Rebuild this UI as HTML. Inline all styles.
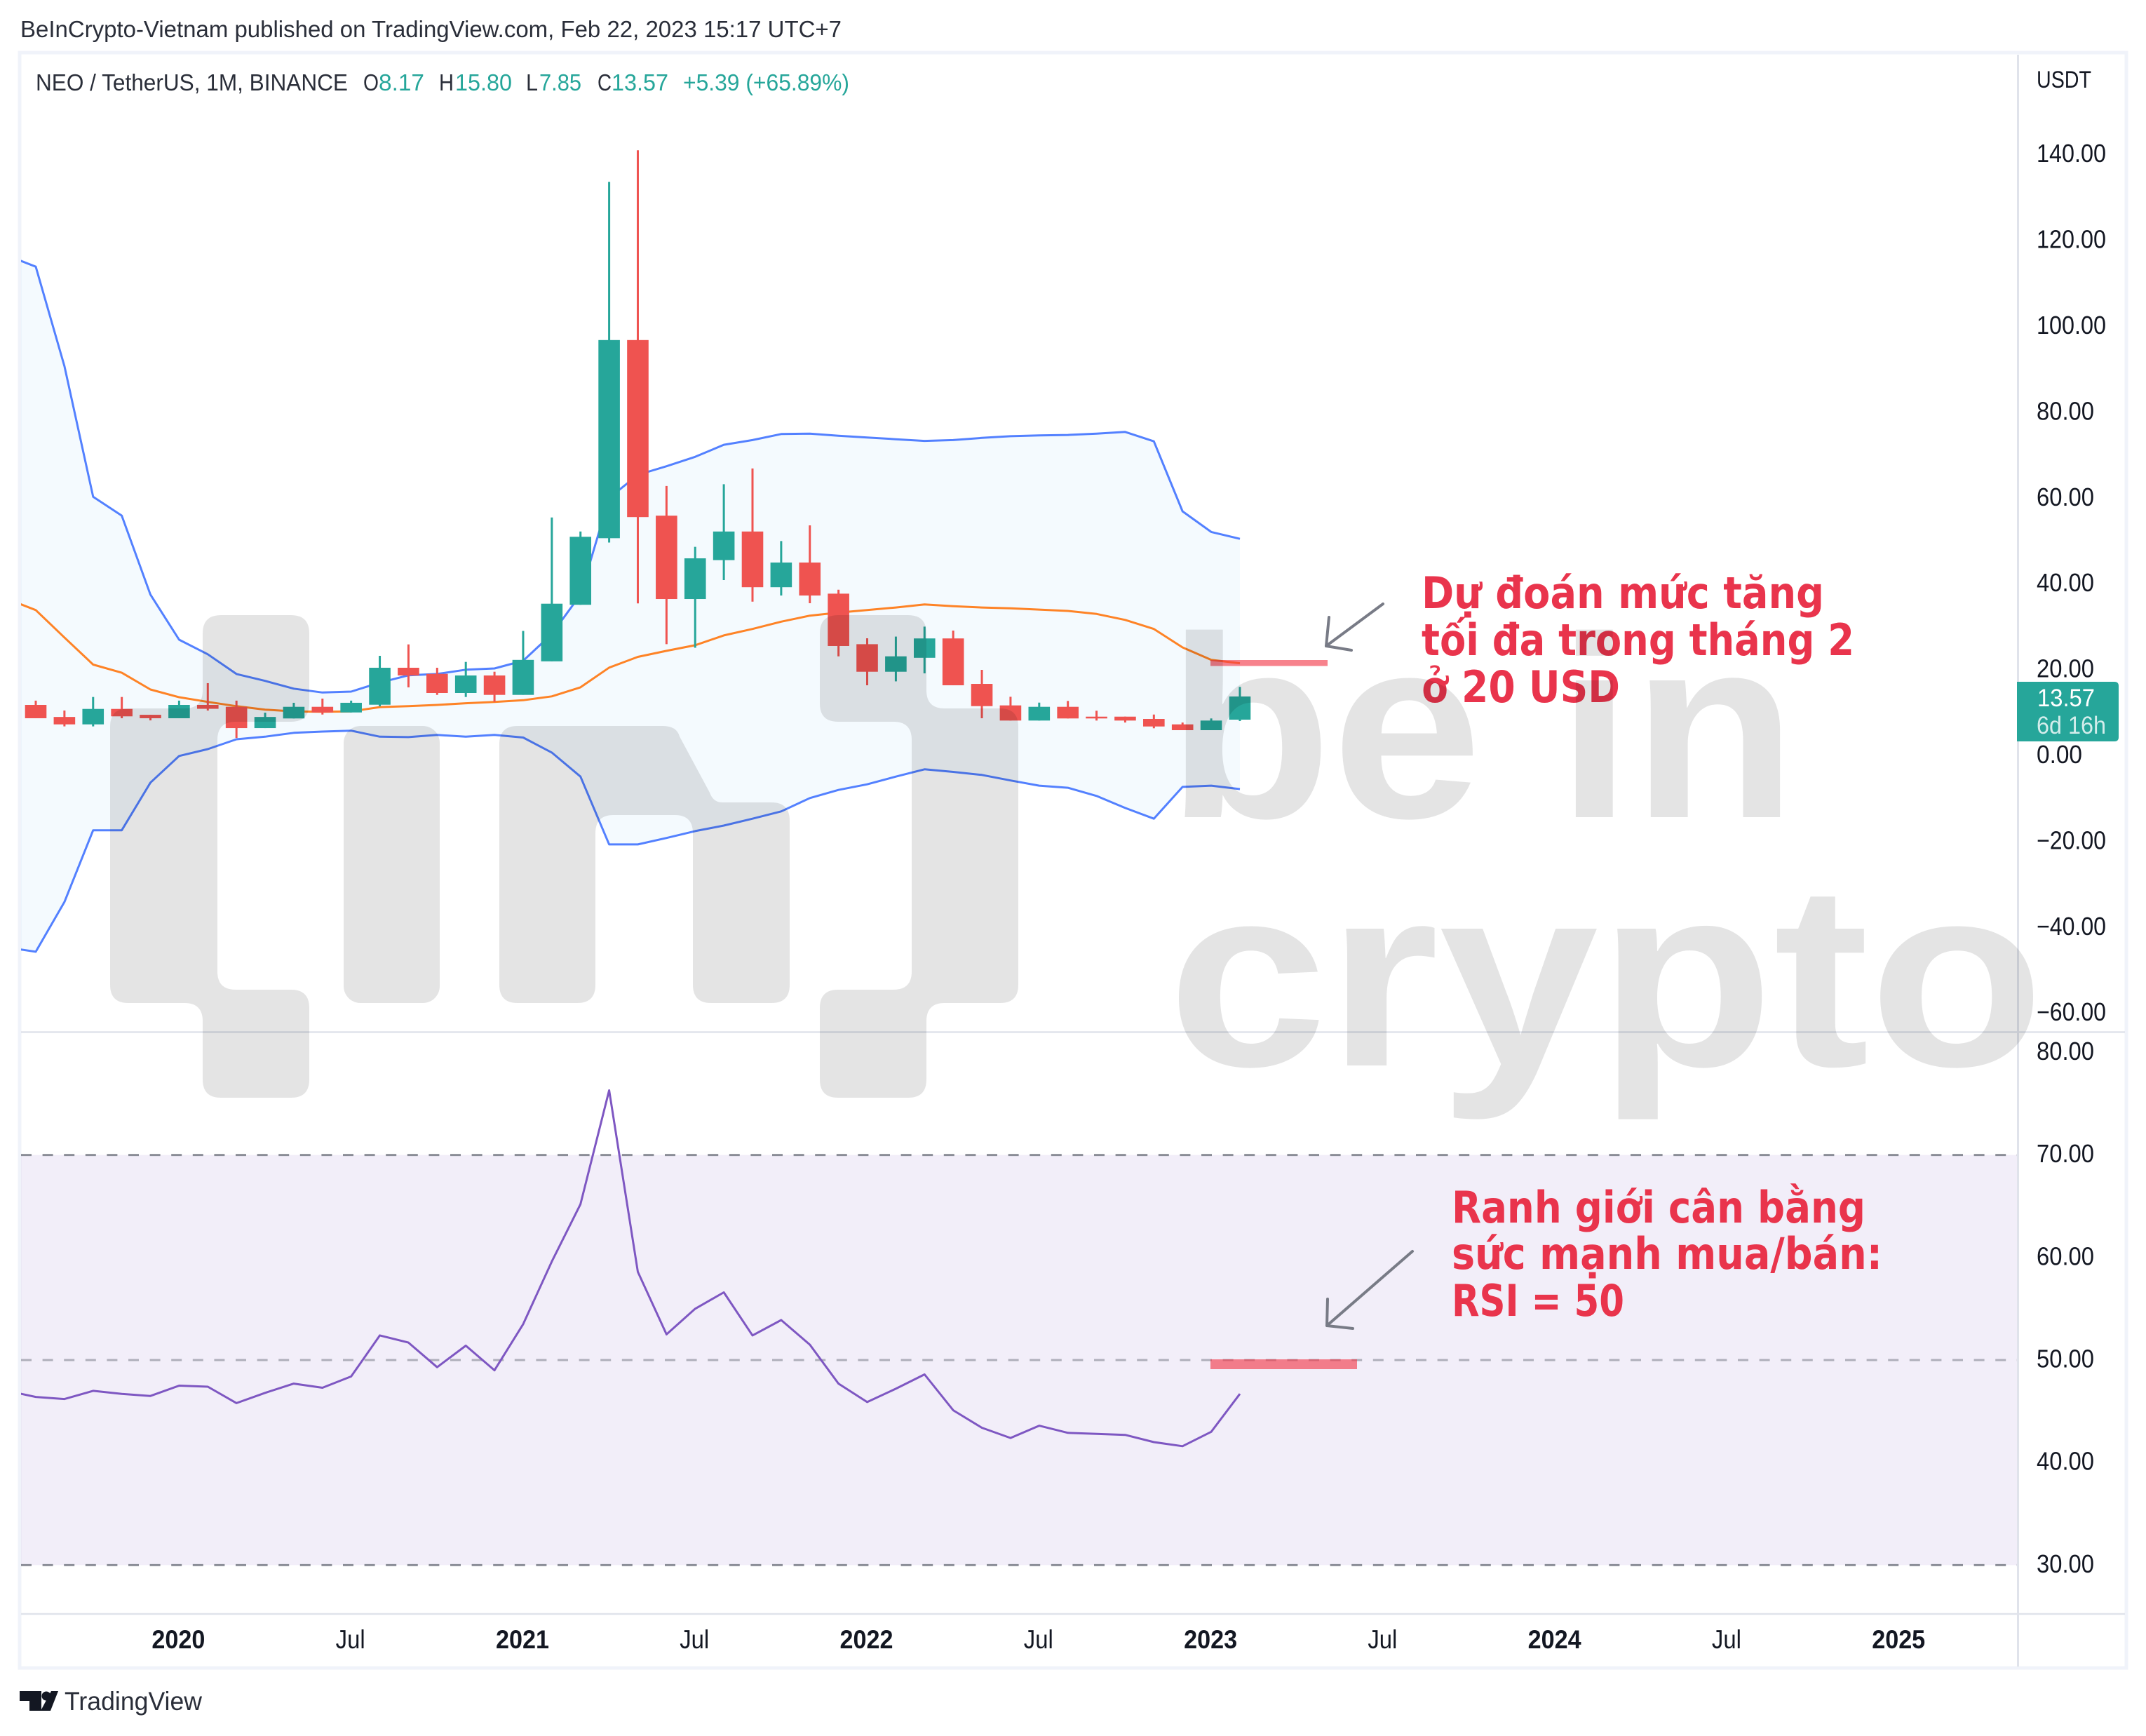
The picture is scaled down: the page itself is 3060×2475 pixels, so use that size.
<!DOCTYPE html>
<html lang="vi">
<head>
<meta charset="utf-8">
<title>NEO / TetherUS monthly chart</title>
<style>
  html, body { margin: 0; padding: 0; background: #ffffff; }
  body { width: 3060px; height: 2475px; overflow: hidden; }
  svg { display: block; }
  text { font-family: "Liberation Sans", "DejaVu Sans", sans-serif; }
  .note text { font-family: "DejaVu Sans", "Liberation Sans", sans-serif; }
</style>
</head>
<body>
<svg xmlns="http://www.w3.org/2000/svg" width="3060" height="2475" viewBox="0 0 3060 2475">
  <defs>
    <clipPath id="price-clip"><rect x="30" y="78" width="2846" height="1393"/></clipPath>
    <clipPath id="rsi-clip"><rect x="30" y="1472" width="2846" height="828"/></clipPath>
  </defs>
  <rect x="0" y="0" width="3060" height="2475" fill="#ffffff"/>

  <text x="29" y="53" font-size="33" fill="#2a2e39" textLength="1171" lengthAdjust="spacingAndGlyphs">BeInCrypto-Vietnam published on TradingView.com, Feb 22, 2023 15:17 UTC+7</text>

  <rect x="28" y="75" width="3004" height="2303" fill="#ffffff" stroke="#f0f3fa" stroke-width="5"/>

  <g clip-path="url(#price-clip)">
    <path id="bb-fill" fill="#2196f3" fill-opacity="0.05"/>
    <path id="bb-upper" fill="none" stroke="#2962ff" stroke-opacity="0.8" stroke-width="3" stroke-linejoin="round"/>
    <path id="bb-lower" fill="none" stroke="#2962ff" stroke-opacity="0.8" stroke-width="3" stroke-linejoin="round"/>
    <path id="bb-basis" fill="none" stroke="#ff6d00" stroke-opacity="0.85" stroke-width="3" stroke-linejoin="round"/>
    <g id="candles"></g>
  </g>

  <rect x="1726" y="941" width="167" height="8.5" fill="#f23645" fill-opacity="0.62"/>
  <g fill="none" stroke="#787b86" stroke-width="4" stroke-linecap="round" stroke-linejoin="round">
    <line x1="1972" y1="861" x2="1891" y2="921"/>
    <polyline points="1895,880 1891,921 1927,927"/>
  </g>
  <g class="note" font-size="62" font-weight="700" fill="#e9344c">
    <text x="2027" y="867" textLength="574" lengthAdjust="spacingAndGlyphs">Dự đoán mức tăng</text>
    <text x="2027" y="934" textLength="617" lengthAdjust="spacingAndGlyphs">tối đa trong tháng 2</text>
    <text x="2027" y="1001" textLength="283" lengthAdjust="spacingAndGlyphs">ở 20 USD</text>
  </g>

  <g font-size="33">
    <text x="51" y="129" fill="#2a2e39" textLength="445" lengthAdjust="spacingAndGlyphs">NEO / TetherUS, 1M, BINANCE</text>
    <text x="518" y="129" fill="#2a2e39" textLength="22" lengthAdjust="spacingAndGlyphs">O</text>
    <text x="540" y="129" fill="#26a69a" textLength="65" lengthAdjust="spacingAndGlyphs">8.17</text>
    <text x="626" y="129" fill="#2a2e39" textLength="21" lengthAdjust="spacingAndGlyphs">H</text>
    <text x="649" y="129" fill="#26a69a" textLength="81" lengthAdjust="spacingAndGlyphs">15.80</text>
    <text x="750" y="129" fill="#2a2e39" textLength="17" lengthAdjust="spacingAndGlyphs">L</text>
    <text x="769" y="129" fill="#26a69a" textLength="60" lengthAdjust="spacingAndGlyphs">7.85</text>
    <text x="852" y="129" fill="#2a2e39" textLength="20" lengthAdjust="spacingAndGlyphs">C</text>
    <text x="872" y="129" fill="#26a69a" textLength="81" lengthAdjust="spacingAndGlyphs">13.57</text>
    <text x="974" y="129" fill="#26a69a" textLength="237" lengthAdjust="spacingAndGlyphs">+5.39 (+65.89%)</text>
  </g>

  <rect id="rsi-band" x="30" fill="#7e57c2" fill-opacity="0.1" width="2846"/>
  <g id="rsi-levels"></g>
  <rect x="1726" y="1938" width="209" height="14" fill="#f23645" fill-opacity="0.62"/>
  <g clip-path="url(#rsi-clip)">
    <path id="rsi-line" fill="none" stroke="#7e57c2" stroke-width="3" stroke-linejoin="round"/>
  </g>
  <g fill="none" stroke="#787b86" stroke-width="4" stroke-linecap="round" stroke-linejoin="round">
    <line x1="2014" y1="1784" x2="1892" y2="1890"/>
    <polyline points="1893,1852 1892,1890 1929,1894"/>
  </g>
  <g class="note" font-size="62" font-weight="700" fill="#e9344c">
    <text x="2070" y="1743" textLength="590" lengthAdjust="spacingAndGlyphs">Ranh giới cân bằng</text>
    <text x="2070" y="1809" textLength="614" lengthAdjust="spacingAndGlyphs">sức mạnh mua/bán:</text>
    <text x="2070" y="1876" textLength="246" lengthAdjust="spacingAndGlyphs">RSI = 50</text>
  </g>

  <line x1="2877.5" y1="78" x2="2877.5" y2="2376" stroke="#e0e3eb" stroke-width="3"/>
  <line x1="30" y1="1471.5" x2="3030" y2="1471.5" stroke="#e0e3eb" stroke-width="2.5"/>
  <line x1="30" y1="2301" x2="3030" y2="2301" stroke="#e0e3eb" stroke-width="2.5"/>

  <text x="2904" y="125" font-size="34" fill="#131722" textLength="78" lengthAdjust="spacingAndGlyphs">USDT</text>
  <g id="price-axis" font-size="36" fill="#131722"></g>
  <g id="rsi-axis" font-size="36" fill="#131722"></g>
  <g id="time-axis" font-size="37" fill="#131722" text-anchor="middle"></g>

  <g>
    <path d="M2876,972 H3015 Q3021,972 3021,978 V1051 Q3021,1057 3015,1057 H2876 Z" fill="#26a69a"/>
    <text x="2905" y="1007" font-size="35" fill="#ffffff" textLength="82" lengthAdjust="spacingAndGlyphs">13.57</text>
    <text x="2904" y="1046" font-size="35" fill="#ffffff" fill-opacity="0.8" textLength="99" lengthAdjust="spacingAndGlyphs">6d 16h</text>
  </g>

  <g>
    <g fill="#131722">
      <path d="M28,2411 H59 V2439 H42 V2425 H28 Z"/>
      <circle cx="66" cy="2418" r="6.5"/>
      <path d="M73,2411 H83 L72,2439 H58 Z"/>
    </g>
    <text x="92" y="2438" font-size="37" fill="#2a2e39" textLength="196" lengthAdjust="spacingAndGlyphs">TradingView</text>
  </g>

  <g fill="#000000" fill-opacity="0.105">
    <path d="M289,903 Q289,877 315,877 H415 Q441,877 441,903 V1003 Q441,1029 415,1029 H336 Q310,1029 310,1055 V1385 Q310,1411 336,1411 H415 Q441,1411 441,1437 V1539 Q441,1565 415,1565 H315 Q289,1565 289,1539 V1456 Q289,1430 263,1430 H183 Q157,1430 157,1404 V1036 Q157,1010 183,1010 H263 Q289,1010 289,984 Z"/>
    <rect x="490" y="1035" width="137" height="395" rx="24" ry="24"/>
    <path d="M712,1061 Q712,1035 738,1035 H945 Q965,1035 969,1050 L1012,1130 Q1017,1144 1030,1144 H1100 Q1126,1144 1126,1170 V1404 Q1126,1430 1100,1430 H1014 Q988,1430 988,1404 V1188 Q988,1162 962,1162 H875 Q849,1162 849,1188 V1404 Q849,1430 823,1430 H738 Q712,1430 712,1404 Z"/>
    <path d="M1169,903 Q1169,877 1195,877 H1295 Q1321,877 1321,903 V984 Q1321,1010 1347,1010 H1426 Q1452,1010 1452,1036 V1404 Q1452,1430 1426,1430 H1347 Q1321,1430 1321,1456 V1539 Q1321,1565 1295,1565 H1195 Q1169,1565 1169,1539 V1437 Q1169,1411 1195,1411 H1274 Q1300,1411 1300,1385 V1055 Q1300,1029 1274,1029 H1195 Q1169,1029 1169,1003 Z"/>
    <text x="1664" y="1165" font-size="369" font-weight="700" textLength="898" lengthAdjust="spacingAndGlyphs">be in</text>
    <text x="1665" y="1519" font-size="369" font-weight="700" textLength="1250" lengthAdjust="spacingAndGlyphs">crypto</text>
  </g>
</svg>

<script>
// Monthly bars, Aug 2019 to Feb 2023
const openPrices = [11.6,8.8,7.07,10.67,9.3,8.5,11.6,11.16,6.2,8.45,11.16,9.85,11.65,20.26,18.84,14.38,18.46,13.94,21.75,34.93,50.44,96.6,55.69,36.27,45.34,52.0,39.02,44.77,37.52,25.75,19.33,22.58,27.09,16.5,11.49,7.96,11.16,8.87,8.87,8.33,7.07,5.72,8.17];
const highPrices = [12.6,10.3,13.45,13.45,9.3,12.6,16.67,12.6,9.8,12.1,13.07,12.6,23.04,25.7,20.26,21.62,19.33,28.84,55.26,52.0,133.46,140.8,62.6,48.43,63.02,66.68,49.77,53.43,38.43,27.12,27.52,29.84,28.92,19.77,13.5,12.14,12.53,10.25,8.87,9.36,7.5,8.45,15.8];
const lowPrices = [8.5,6.6,6.6,8.5,8.0,8.5,10.3,3.9,6.2,8.45,9.36,9.85,11.27,15.69,13.94,13.45,12.3,13.94,21.75,34.93,49.43,35.26,25.75,24.92,40.69,35.67,37.09,35.29,22.92,16.18,17.09,18.95,16.18,8.5,7.96,7.96,8.45,7.96,7.5,6.16,5.72,5.72,7.85];
const closePrices = [8.5,7.07,10.67,8.94,8.5,11.6,10.7,6.2,8.8,11.16,9.85,12.1,20.26,18.46,14.38,18.46,13.94,22.09,35.18,50.77,96.6,55.36,36.27,45.75,52.0,39.02,44.77,37.09,25.33,19.33,22.92,27.09,16.18,11.32,7.96,11.16,8.45,8.45,7.96,6.58,5.72,7.96,13.57];

// Indicator series start one bar before the first visible candle
const bbUpper = [116.3,113.7,90.5,60.1,55.7,37.3,26.8,23.4,18.8,17.2,15.4,14.5,14.7,16.8,18.5,18.8,19.8,20.1,21.9,28.1,37.3,59.8,65.2,67.2,69.4,72.2,73.3,74.7,74.8,74.3,73.9,73.5,73.1,73.3,73.8,74.2,74.4,74.5,74.8,75.2,73.0,56.7,51.9,50.3];
const bbBasis = [36.3,33.7,27.3,21.0,19.1,15.2,13.4,12.3,11.3,10.5,10.1,10.0,10.1,11.1,11.3,11.6,12.0,12.3,12.7,13.6,15.7,20.3,22.8,24.2,25.5,27.8,29.3,31.0,32.4,33.1,33.7,34.3,35.0,34.6,34.3,34.1,33.8,33.5,32.8,31.4,29.3,25.0,22.1,21.3];
const bbLower = [-44.9,-45.9,-34.3,-17.6,-17.6,-6.5,-0.3,1.3,3.6,4.2,5.1,5.4,5.6,4.2,4.1,4.6,4.2,4.6,4.0,0.5,-5.1,-20.9,-20.9,-19.4,-17.8,-16.5,-14.9,-13.2,-10.1,-8.2,-6.9,-5.1,-3.4,-4.0,-4.7,-6.0,-7.2,-7.7,-9.6,-12.4,-14.9,-7.5,-7.2,-8.0];
const rsiValues = [47.0,46.4,46.2,47.0,46.7,46.5,47.5,47.4,45.8,46.8,47.7,47.3,48.4,52.4,51.7,49.3,51.4,49.0,53.5,59.6,65.2,76.3,58.6,52.5,55.0,56.6,52.4,53.9,51.5,47.7,45.9,47.2,48.6,45.1,43.4,42.4,43.6,42.9,42.8,42.7,42.0,41.6,43.0,46.7];

// Axis ticks
const priceTicks = [140,120,100,80,60,40,20,0,-20,-40,-60];
const rsiTicks = [80,70,60,50,40,30];
const rsiLevels = [70,50,30];
const timeTickLabels = ['2020','Jul','2021','Jul','2022','Jul','2023','Jul','2024','Jul','2025'];
const timeTickBars = [5,11,17,23,29,35,41,47,53,59,65];

// Axis functions
function xBar(i) { return 51 + 40.88 * i; }
function yPrice(p) { return 1076 - 6.12 * p; }
function yRsi(v) { return 1646.6 + (70 - v) * 14.62; }

const SVG_NS = 'http://www.w3.org/2000/svg';
function make(tag, parent) {
  const el = document.createElementNS(SVG_NS, tag);
  parent.appendChild(el);
  return el;
}
function seriesPath(values, yFn) {
  return values.map(function (v, k) {
    return (k === 0 ? 'M' : 'L') + xBar(k - 1).toFixed(1) + ',' + yFn(v).toFixed(1);
  }).join(' ');
}
function fmt(v) {
  return (v < 0 ? '\u2212' : '') + Math.abs(v).toFixed(2);
}
// Reference axis font is narrower than Liberation Sans: fit each label to its measured width
function axisLabelWidth(str) {
  return (str.length - 1) * 17 + 14;
}

// Bollinger bands
document.getElementById('bb-upper').setAttribute('d', seriesPath(bbUpper, yPrice));
document.getElementById('bb-lower').setAttribute('d', seriesPath(bbLower, yPrice));
document.getElementById('bb-basis').setAttribute('d', seriesPath(bbBasis, yPrice));
const lowerReversed = bbLower.map(function (v, k) {
  return 'L' + xBar(k - 1).toFixed(1) + ',' + yPrice(v).toFixed(1);
}).reverse().join(' ');
document.getElementById('bb-fill').setAttribute('d', seriesPath(bbUpper, yPrice) + ' ' + lowerReversed + ' Z');

// Candles
const candleGroup = document.getElementById('candles');
closePrices.forEach(function (close, i) {
  const open = openPrices[i];
  const up = close >= open;
  const color = up ? '#26a69a' : '#ef5350';
  const cx = xBar(i);
  const g = make('g', candleGroup);
  
  
  const wick = make('line', g);
  
  
  wick.setAttribute('x1', cx);
  wick.setAttribute('x2', cx);
  wick.setAttribute('y1', yPrice(highPrices[i]));
  wick.setAttribute('y2', yPrice(lowPrices[i]));
  wick.setAttribute('stroke', color);
  wick.setAttribute('stroke-width', '3');
  const body = make('rect', g);
  
  
  const top = yPrice(Math.max(open, close));
  const bottom = yPrice(Math.min(open, close));
  body.setAttribute('x', cx - 15.3);
  body.setAttribute('width', 30.6);
  body.setAttribute('y', top);
  body.setAttribute('height', Math.max(bottom - top, 2));
  body.setAttribute('fill', color);
});

// RSI
document.getElementById('rsi-line').setAttribute('d', seriesPath(rsiValues, yRsi));
const rsiBand = document.getElementById('rsi-band');
rsiBand.setAttribute('y', yRsi(rsiLevels[0]));
rsiBand.setAttribute('height', yRsi(rsiLevels[2]) - yRsi(rsiLevels[0]));
const levelGroup = document.getElementById('rsi-levels');
rsiLevels.forEach(function (level) {
  const ln = make('line', levelGroup);
  
  
  ln.setAttribute('x1', 30);
  ln.setAttribute('x2', 2876);
  ln.setAttribute('y1', yRsi(level));
  ln.setAttribute('y2', yRsi(level));
  ln.setAttribute('stroke', '#787b86');
  ln.setAttribute('stroke-opacity', level === 50 ? '0.55' : '0.85');
  ln.setAttribute('stroke-width', '3');
  ln.setAttribute('stroke-dasharray', '15 15.6');
});

// Axis labels
const priceAxis = document.getElementById('price-axis');
priceTicks.forEach(function (tick) {
  const t = make('text', priceAxis);
  
  
  t.setAttribute('x', 2904);
  t.setAttribute('y', yPrice(tick) + 12);
  t.setAttribute('textLength', axisLabelWidth(fmt(tick)));
  t.setAttribute('lengthAdjust', 'spacingAndGlyphs');
  t.textContent = fmt(tick);
});
const rsiAxis = document.getElementById('rsi-axis');
rsiTicks.forEach(function (tick) {
  const t = make('text', rsiAxis);
  
  
  t.setAttribute('x', 2904);
  t.setAttribute('y', yRsi(tick) + 10.5);
  t.setAttribute('textLength', axisLabelWidth(fmt(tick)));
  t.setAttribute('lengthAdjust', 'spacingAndGlyphs');
  t.textContent = fmt(tick);
});
const timeAxis = document.getElementById('time-axis');
timeTickLabels.forEach(function (label, k) {
  const t = make('text', timeAxis);
  
  
  t.setAttribute('x', xBar(timeTickBars[k]) - 1);
  t.setAttribute('y', 2350);
  t.setAttribute('textLength', label === 'Jul' ? 42 : 76);
  t.setAttribute('lengthAdjust', 'spacingAndGlyphs');
  if (label !== 'Jul') { t.setAttribute('font-weight', '700'); }
  t.textContent = label;
});
</script>
</body>
</html>
